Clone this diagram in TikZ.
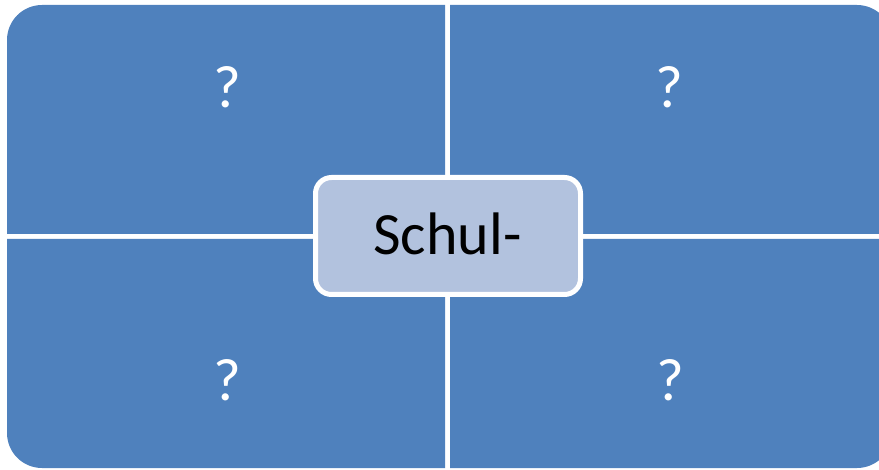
\documentclass[tikz,border=0pt]{standalone}
\usepackage{fontspec}
\setmainfont{Carlito}
\definecolor{qblue}{RGB}{79,129,189}
\definecolor{cfill}{RGB}{178,194,222}
\begin{document}
\begin{tikzpicture}[x=1pt,y=1pt,
  quad/.style={fill=qblue},
  qmark/.style={anchor=base,inner sep=0pt,text=white,font=\fontsize{60}{60}\selectfont},
  center/.style={draw=white,line width=5pt,fill=cfill,rounded corners=16pt,
    minimum width=265pt,minimum height=117pt,inner sep=0pt,
    font=\fontsize{60}{60}\selectfont}]
\useasboundingbox (0,0) rectangle (879,469);
\clip (0,0) rectangle (879,469);
% quadrants
\fill[quad] (7,235) -- (7,429) arc[start angle=180,end angle=90,radius=35] -- (445,464) -- (445,235) -- cycle;
\fill[quad] (450,235) -- (450,464) -- (857,464) arc[start angle=90,end angle=0,radius=35] -- (892,235) -- cycle;
\fill[quad] (7,230) -- (445,230) -- (445,1) -- (42,1) arc[start angle=270,end angle=180,radius=35] -- cycle;
\fill[quad] (450,230) -- (892,230) -- (892,36) arc[start angle=0,end angle=-90,radius=35] -- (857,1) -- (450,1) -- cycle;
% question marks
\node[qmark] (q1) at (227,361) {?};
\node[qmark] (q2) at (669,361) {?};
\node[qmark] (q3) at (227,68) {?};
\node[qmark] (q4) at (670,68) {?};
% center box
\node[center] (c) at (448,233) {};
\node[anchor=base,inner sep=0pt,font=\fontsize{60}{60}\selectfont] (t) at (447.5,214) {Schul-};
\end{tikzpicture}
\end{document}
